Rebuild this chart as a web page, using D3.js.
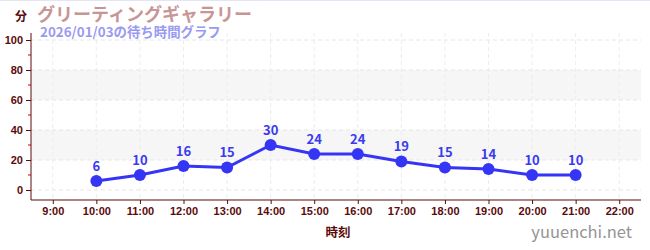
<!DOCTYPE html>
<html>
<head>
<meta charset="utf-8">
<script src="https://cdn.jsdelivr.net/npm/d3@7"></script>
<style>
  body { margin: 0; background: #fff; }
  svg { display: block; font-family: "Noto Sans CJK JP", "Noto Sans", sans-serif; }
</style>
</head>
<body>
<svg id="chart" width="650" height="250"></svg>
<script>
// hours shown on the x axis
const hours = [9, 10, 11, 12, 13, 14, 15, 16, 17, 18, 19, 20, 21, 22];
// waiting times (minutes)
const pointHours = [10, 11, 12, 13, 14, 15, 16, 17, 18, 19, 20, 21];
const waitMinutes = [6, 10, 16, 15, 30, 24, 24, 19, 15, 14, 10, 10];
const yTicks = [0, 20, 40, 60, 80, 100];
const yMinor = [10, 30, 50, 70, 90];
const bands = [[20, 40], [60, 80]];

const svg = d3.select("#chart");
const plotL = 31, plotR = 641, plotT = 33, plotB = 200;
const axisColor = "#5a0a0a";

const x = d3.scaleLinear().domain([8.5, 22.5]).range([plotL, plotR]);
const y = d3.scaleLinear().domain([-6.67, 104.67]).range([plotB, plotT]);

// top border
svg.append("line").attr("x1", 0).attr("x2", 650).attr("y1", 0.5).attr("y2", 0.5)
  .attr("stroke", "#e4e4f4");

// grey bands
svg.selectAll("rect.band").data(bands).enter().append("rect")
  .attr("class", "band")
  .attr("x", plotL).attr("width", plotR - plotL)
  .attr("y", d => y(d[1])).attr("height", d => y(d[0]) - y(d[1]))
  .attr("fill", "#f6f6f6");

// grid lines
svg.selectAll("line.hgrid").data(yTicks).enter().append("line")
  .attr("x1", plotL).attr("x2", plotR)
  .attr("y1", d => y(d)).attr("y2", d => y(d))
  .attr("stroke", "#e6e6e6").attr("stroke-dasharray", "4,3");
svg.selectAll("line.vgrid").data(hours).enter().append("line")
  .attr("x1", d => x(d)).attr("x2", d => x(d))
  .attr("y1", plotT).attr("y2", plotB)
  .attr("stroke", "#ececec").attr("stroke-dasharray", "4,3");

// y axis
const yAxis = svg.append("g").attr("transform", `translate(${plotL},0)`)
  .call(d3.axisLeft(y).tickValues(yTicks).tickSize(5).tickPadding(3));
yAxis.select(".domain").attr("stroke", axisColor).attr("d", `M0,${plotT}V${plotB}`);
yAxis.selectAll(".tick line").attr("stroke", axisColor);
yAxis.selectAll(".tick text").attr("fill", axisColor)
  .style("font-size", "11px").style("font-weight", "bold");
svg.selectAll("line.minor").data(yMinor).enter().append("line")
  .attr("x1", plotL - 3).attr("x2", plotL)
  .attr("y1", d => y(d)).attr("y2", d => y(d))
  .attr("stroke", "#d00000");

// x axis
const xAxis = svg.append("g").attr("transform", `translate(0,${plotB})`)
  .call(d3.axisBottom(x).tickValues(hours).tickFormat(d => d + ":00").tickSize(4).tickPadding(3));
xAxis.select(".domain").attr("stroke", axisColor).attr("d", `M${plotL},0H${plotR}`);
xAxis.selectAll(".tick line").attr("stroke", axisColor);
xAxis.selectAll(".tick text").attr("fill", axisColor)
  .style("font-size", "11px").style("font-weight", "bold");

// line + points
const line = d3.line().x((d, i) => x(pointHours[i])).y(d => y(d));
svg.append("path").datum(waitMinutes)
  .attr("d", line).attr("fill", "none")
  .attr("stroke", "#3535f5").attr("stroke-width", 3);

svg.selectAll("circle.pt").data(waitMinutes).enter().append("circle")
  .attr("cx", (d, i) => x(pointHours[i])).attr("cy", d => y(d))
  .attr("r", 6).attr("fill", "#3535f5");

svg.selectAll("text.val").data(waitMinutes).enter().append("text")
  .attr("x", (d, i) => x(pointHours[i])).attr("y", d => y(d) - 10)
  .attr("text-anchor", "middle")
  .attr("fill", "#3a3af0").style("font-size", "13px").style("font-weight", "bold")
  .text(d => d);

// titles
svg.append("text").attr("x", 15).attr("y", 21).attr("fill", axisColor)
  .style("font-size", "12px").style("font-weight", "bold").text("分");
svg.append("text").attr("x", 37).attr("y", 21).attr("fill", "#c89595")
  .style("font-size", "18px").style("font-weight", "bold").text("グリーティングギャラリー");
svg.append("text").attr("x", 40).attr("y", 36.5).attr("fill", "#9a9af0")
  .style("font-size", "13.4px").style("font-weight", "bold").text("2026/01/03の待ち時間グラフ");

// axis title
svg.append("text").attr("x", 338).attr("y", 237).attr("text-anchor", "middle")
  .attr("fill", axisColor).style("font-size", "12.5px").style("font-weight", "bold").text("時刻");

// watermark
svg.append("text").attr("x", 632).attr("y", 238).attr("text-anchor", "end")
  .attr("fill", "#959595").style("font-size", "16.5px").text("yuuenchi.net");
</script>
</body>
</html>
